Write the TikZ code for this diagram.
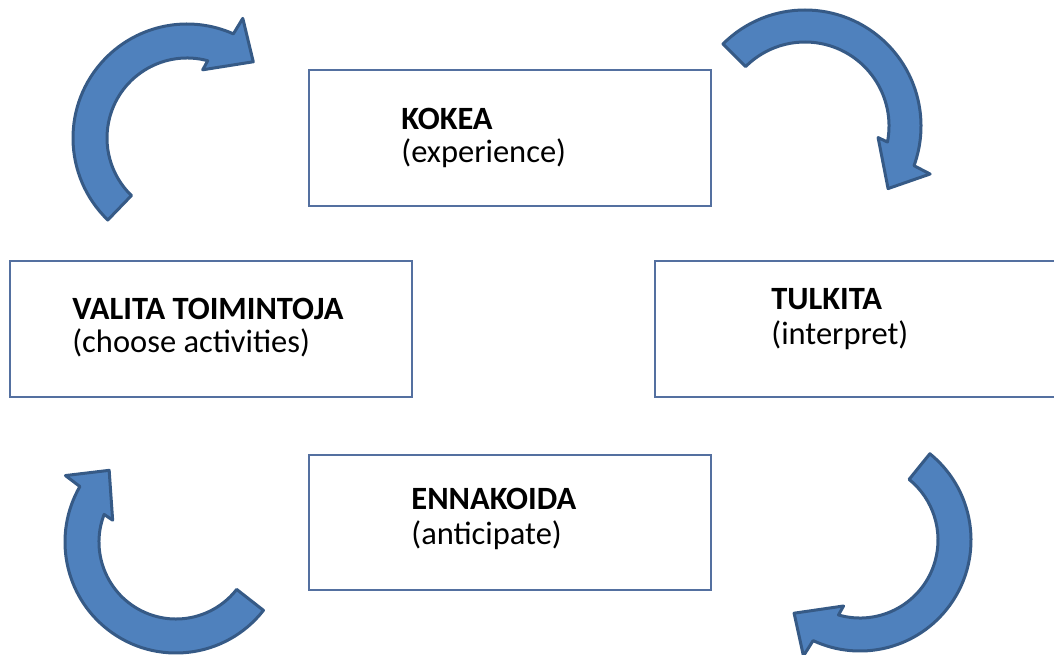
\documentclass[tikz,border=0pt]{standalone}
\usepackage{fontspec}
\setmainfont{Carlito}
\usepackage{tikz}
\usetikzlibrary{calc,positioning}

\definecolor{arrowfill}{RGB}{79,129,189}
\definecolor{arrowline}{RGB}{54,90,134}
\definecolor{boxline}{RGB}{84,112,160}

% curved block arrow: centre, tail angle, end angle, outer radius, inner radius
\newcommand{\cyclearrow}[5]{%
  \draw[arrowshape, shift={(#1)}] (#2:#4) arc[start angle=#2, end angle=#3, radius=#4]
    -- ({#3+1}:{#4+18}) -- ({#3+17}:{(#4+#5)/2+4}) -- ({#3-11}:{#5-10})
    -- ({#3-9}:#5) arc[start angle={#3-9}, end angle=#2, radius=#5] -- cycle;}

\begin{document}
\begin{tikzpicture}[x=1pt, y=1pt, yscale=-1,
    stage/.style={draw=boxline, line width=1.6pt, minimum width=402pt,
      minimum height=136pt, inner sep=0pt},
    fi/.style={anchor=base west, inner sep=0pt, font=\fontsize{32.5}{38}\selectfont\bfseries},
    en/.style={anchor=base west, inner sep=0pt, font=\fontsize{32.5}{38}\selectfont},
    arrowshape/.style={fill=arrowfill, draw=arrowline, line width=3pt, line join=round}]
  \useasboundingbox (0,0) rectangle (1054,655);
  \clip (0,0) rectangle (1054,655);

  % the four stages
  \node[stage] (kokea) at (510,138) {};
  \node[stage] (tulkita) at (856,329) {};
  \node[stage, minimum height=135pt] (ennakoida) at (510,522.5) {};
  \node[stage] (valita) at (211,329) {};

  \node[fi] (kokea-fi) at ($(kokea.north west)+(93,60)$) {KOKEA};
  \node[en] (kokea-en) at ($(kokea-fi.base west)+(0,33)$) {(experience)};
  \node[fi] (tulkita-fi) at ($(tulkita.north west)+(117,49)$) {TULKITA};
  \node[en] (tulkita-en) at ($(tulkita-fi.base west)+(0,35)$) {(interpret)};
  \node[fi] (ennakoida-fi) at ($(ennakoida.north west)+(103,55)$) {ENNAKOIDA};
  \node[en] (ennakoida-en) at ($(ennakoida-fi.base west)+(0,35)$) {(anticipate)};
  \node[fi] (valita-fi) at ($(valita.north west)+(63,59)$) {VALITA TOIMINTOJA};
  \node[en] (valita-en) at ($(valita-fi.base west)+(0,33)$) {(choose activities)};

  % arrows between the stages
  \cyclearrow{187,138}{134}{294}{114}{80}
  \cyclearrow{805,126}{-135}{20}{116}{84}
  \cyclearrow{860,540}{-51}{115}{111}{78}
  \cyclearrow{176,542}{38}{210}{111}{77}
\end{tikzpicture}
\end{document}
